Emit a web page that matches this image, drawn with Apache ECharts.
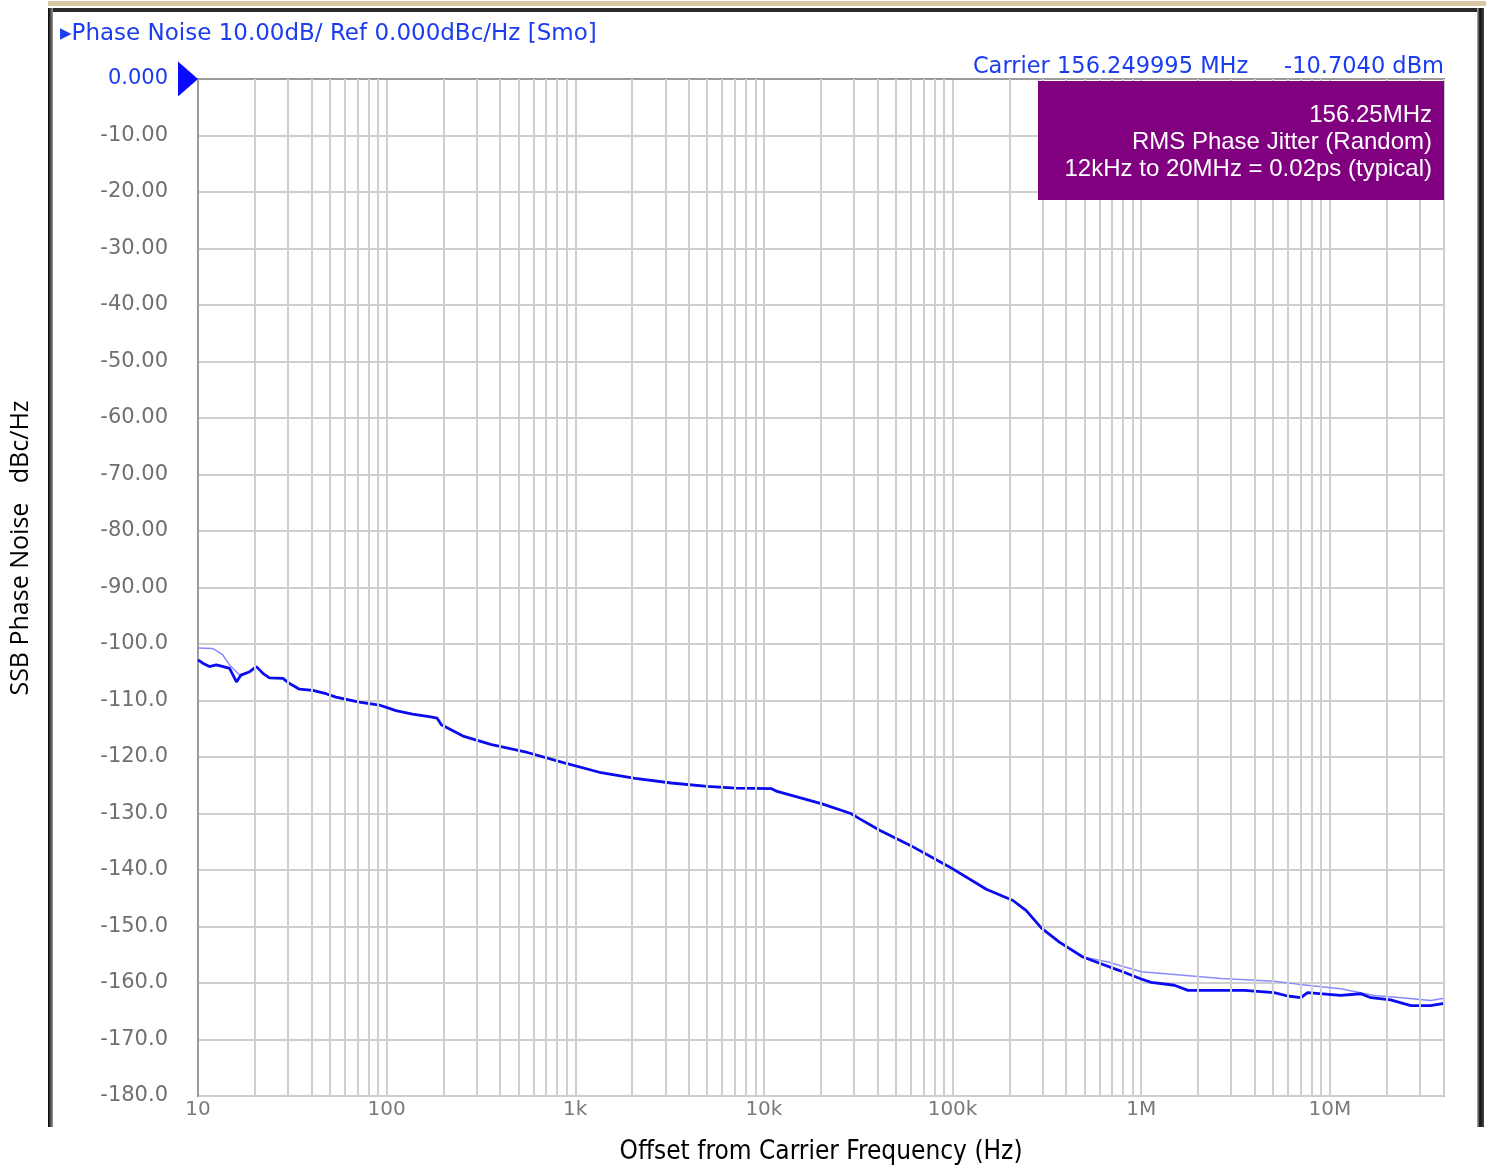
<!DOCTYPE html>
<html>
<head>
<meta charset="utf-8">
<script src="https://cdn.jsdelivr.net/npm/echarts@6/dist/echarts.min.js"></script>
<style>
html, body { margin: 0; padding: 0; background: #fff; }
#chart { width: 1486px; height: 1165px; }
</style>
</head>
<body>
<div id="chart"></div>
<script>
// main trace (offset Hz / dBc/Hz)
var mainFreq = [10, 10.6, 11.5, 12.5, 13.6, 14.7, 16.0, 16.9, 18.8, 20.4,
	22.1, 23.9, 28.2, 30.6, 34.5, 40.6, 47.7, 53.9, 71.6, 91.4,
	112, 137, 171, 185, 195, 254, 360, 558, 865, 1342, 2080,
	3225, 5000, 7100, 11000, 11750, 20350, 28900, 32400, 41300, 59400,
	96800, 151000, 209000, 246000, 296000, 370000, 491000, 602000, 768000, 1000000,
	1130000, 1500000, 1770000, 3520000, 5070000, 5970000, 7030000, 7620000, 11400000, 14600000,
	16500000, 21000000, 26900000, 34200000, 40300000];
var mainDbc = [-102.8, -103.4, -104.0, -103.7, -104.0, -104.3, -106.7, -105.5, -104.9, -104.0,
	-105.2, -106.0, -106.1, -107.0, -108.0, -108.2, -108.8, -109.4, -110.3, -110.8,
	-111.8, -112.4, -112.9, -113.1, -114.3, -116.3, -117.8, -119.2, -121.0, -122.7, -123.8,
	-124.6, -125.2, -125.5, -125.6, -126.1, -128.3, -130.0, -131.0, -133.0, -135.6,
	-139.5, -143.4, -145.4, -147.2, -150.3, -152.8, -155.4, -156.5, -157.8, -159.3,
	-159.9, -160.4, -161.3, -161.3, -161.7, -162.3, -162.6, -161.7, -162.2, -161.9,
	-162.6, -163.0, -164.0, -164.0, -163.6];

// lighter reference trace, only where it separates from the main one
var refHeadFreq = [10, 12, 13.5, 14.7, 16.6, 18.8];
var refHeadDbc = [-100.7, -100.8, -101.9, -103.7, -105.5, -104.9];
var refTailFreq = [491000, 667000, 1000000, 1500000, 2650000, 5070000, 6740000, 11400000, 17200000, 25800000, 34200000, 40300000];
var refTailDbc = [-155.4, -156.3, -158.0, -158.5, -159.2, -159.7, -160.2, -161.0, -162.2, -162.7, -163.1, -162.7];

var xDecades = [10, 100, 1000, 10000, 100000, 1000000, 10000000];
var xDecadeLabels = ['10', '100', '1k', '10k', '100k', '1M', '10M'];
var xMin = 10, xMax = 40300000;
var yMin = -180, yMax = 0, yStep = 10;

function pairs(xs, ys) {
	var out = [];
	for (var i = 0; i < xs.length; i++) out.push([xs[i], ys[i]]);
	return out;
}

// vertical grid lines at 2..9 of each decade
var vLines = [];
xDecades.forEach(function(d) {
	for (var m = 2; m <= 9; m++) {
		if (d * m < xMax) vLines.push({ xAxis: d * m });
	}
});

var gridColor = '#cecece';
var labelFont = 'DejaVu Sans';
var blue = '#1c3cf0';

var myChart = echarts.init(document.getElementById('chart'));
myChart.setOption({
	backgroundColor: '#fff',
	animation: false,
	title: [{
		text: '\u25B8Phase Noise 10.00dB/ Ref 0.000dBc/Hz [Smo]',
		left: 60,
		top: 23,
		padding: 0,
		textStyle: { color: blue, fontFamily: labelFont, fontSize: 23, fontWeight: 'normal' }
	}, {
		text: 'Carrier 156.249995 MHz     -10.7040 dBm',
		right: 42,
		top: 56,
		padding: 0,
		textStyle: { color: blue, fontFamily: labelFont, fontSize: 22.5, fontWeight: 'normal' }
	}],
	graphic: [
		{ type: 'rect', shape: { x: 48, y: 1, width: 1438, height: 5 }, style: { fill: '#d8c8a2' }, silent: true },
		{ type: 'rect', shape: { x: 48, y: 8, width: 1436, height: 4 }, style: { fill: '#2a2a2a' }, silent: true },
		{ type: 'rect', shape: { x: 48, y: 8, width: 5, height: 1119 }, silent: true,
			style: { fill: new echarts.graphic.LinearGradient(0, 0, 1, 0, [{ offset: 0, color: '#000' }, { offset: 1, color: '#999' }]) } },
		{ type: 'rect', shape: { x: 1477, y: 8, width: 7, height: 1119 }, silent: true,
			style: { fill: new echarts.graphic.LinearGradient(0, 0, 1, 0, [{ offset: 0, color: '#bbb' }, { offset: 0.4, color: '#111' }, { offset: 1, color: '#444' }]) } },
		{
			type: 'text',
			x: 21,
			y: 548,
			rotation: Math.PI / 2,
			silent: true,
			style: {
				text: 'SSB Phase Noise   dBc/Hz',
				fill: '#000',
				font: '25px "Open Sans", sans-serif',
				align: 'center',
				verticalAlign: 'middle'
			}
		},
		{
			type: 'group',
			right: 42,
			top: 81,
			z: 100,
			silent: true,
			children: [{
				type: 'rect',
				z: 100,
				shape: { x: 0, y: 0, width: 406, height: 119 },
				style: { fill: '#800080' }
			}, {
				type: 'text',
				z: 101,
				x: 394,
				y: 21,
				style: {
					text: '156.25MHz\nRMS Phase Jitter (Random)\n12kHz to 20MHz = 0.02ps (typical)',
					fill: '#fff',
					font: '24px "Liberation Sans", Arial, sans-serif',
					align: 'right',
					verticalAlign: 'top',
					lineHeight: 27
				}
			}]
		}
	],
	grid: {
		left: 198,
		right: 42,
		top: 79,
		bottom: 69,
		containLabel: false,
		outerBoundsMode: 'none',
		show: true,
		borderColor: '#9c9c9c',
		borderWidth: 2,
		backgroundColor: '#fff'
	},
	xAxis: {
		type: 'log',
		logBase: 10,
		min: xMin,
		max: xMax,
		name: 'Offset from Carrier Frequency (Hz)',
		nameLocation: 'middle',
		nameGap: 43,
		nameTextStyle: { color: '#000', fontFamily: '"Liberation Sans Narrow", "DejaVu Sans Condensed", sans-serif', fontSize: 26 },
		axisLine: { show: true, lineStyle: { color: '#9c9c9c', width: 2 } },
		axisTick: { show: false },
		splitLine: { show: true, lineStyle: { color: gridColor, width: 2 } },
		axisLabel: {
			color: '#7a7a7a',
			fontFamily: labelFont,
			fontSize: 20,
			margin: 4,
			showMaxLabel: false,
			formatter: function(v) {
				for (var i = 0; i < xDecades.length; i++) {
					if (Math.abs(v - xDecades[i]) / xDecades[i] < 1e-6) return xDecadeLabels[i];
				}
				return '';
			}
		}
	},
	yAxis: {
		type: 'value',
		min: yMin,
		max: yMax,
		interval: yStep,
		axisLine: { show: true, lineStyle: { color: '#9c9c9c', width: 2 } },
		axisTick: { show: false },
		splitLine: { show: true, lineStyle: { color: gridColor, width: 2 } },
		axisLabel: {
			color: '#707070',
			fontFamily: labelFont,
			fontSize: 21,
			margin: 30,
			formatter: function(v) {
				if (v === 0) return '{z|0.000}';
				return Math.abs(v) < 100 ? v.toFixed(2) : v.toFixed(1);
			},
			rich: {
				z: { color: blue, fontFamily: labelFont, fontSize: 21 }
			}
		}
	},
	series: [{
		// holds the minor vertical grid lines
		type: 'line',
		data: [],
		z: 1,
		silent: true,
		markLine: {
			silent: true,
			symbol: 'none',
			animation: false,
			label: { show: false },
			lineStyle: { color: gridColor, width: 2, type: 'solid' },
			data: vLines
		}
	}, {
		name: 'ref head',
		type: 'line',
		z: 2,
		showSymbol: false,
		data: pairs(refHeadFreq, refHeadDbc),
		lineStyle: { color: '#8a8aff', width: 1.5 }
	}, {
		name: 'ref tail',
		type: 'line',
		z: 2,
		showSymbol: false,
		data: pairs(refTailFreq, refTailDbc),
		lineStyle: { color: '#8a8aff', width: 1.5 }
	}, {
		name: 'trace',
		type: 'line',
		z: 3,
		showSymbol: false,
		data: pairs(mainFreq, mainDbc),
		lineStyle: { color: '#0b0bf2', width: 2.8 },
		markPoint: {
			silent: true,
			symbol: 'triangle',
			symbolSize: [35, 20],
			symbolRotate: -90,
			symbolOffset: [-10, 0],
			itemStyle: { color: '#0a0aff' },
			label: { show: false },
			data: [{ coord: [xMin, yMax] }]
		}
	}]
});
</script>
</body>
</html>
